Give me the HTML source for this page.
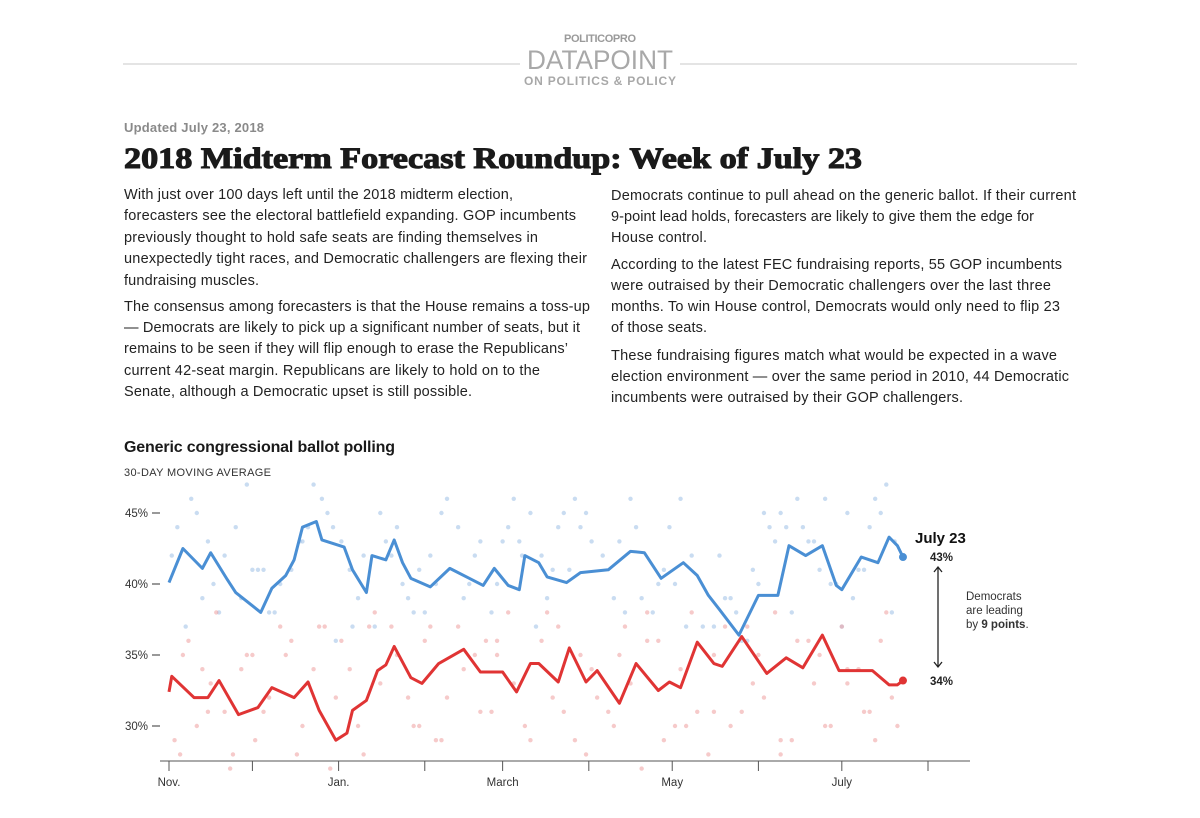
<!DOCTYPE html>
<html><head><meta charset="utf-8"><style>
html,body{margin:0;padding:0;background:#fff;}
svg{display:block;font-family:"Liberation Sans",sans-serif;}
</style></head><body>
<svg id="page" width="1200" height="818" viewBox="0 0 1200 818">
<g>
<line x1="123" y1="64" x2="1077" y2="64" stroke="#c8c8c8" stroke-width="1"/>
<text x="600" y="42" text-anchor="middle" font-size="11" font-weight="bold" fill="#9a9a9a" textLength="72">POLITICOPRO</text>
<rect x="520" y="46" width="160" height="24" fill="#fff"/>
<text x="600" y="69" text-anchor="middle" font-size="27" fill="#a8a8a8" textLength="146" lengthAdjust="spacingAndGlyphs">DATAPOINT</text>
<text x="600" y="85" text-anchor="middle" font-size="12" font-weight="bold" fill="#a8a8a8" textLength="152">ON POLITICS &amp; POLICY</text>
</g>
<text x="124" y="132" font-size="13" font-weight="bold" fill="#8a8a8a" textLength="140">Updated July 23, 2018</text>
<text x="124" y="168" font-family="Liberation Serif,serif" font-size="30" font-weight="bold" fill="#1a1a1a" stroke="#1a1a1a" stroke-width="1.1" textLength="738" lengthAdjust="spacingAndGlyphs">2018 Midterm Forecast Roundup: Week of July 23</text>
<g font-size="14.5" fill="#222">
<text x="124" y="199" textLength="389">With just over 100 days left until the 2018 midterm election,</text>
<text x="124" y="220" textLength="452">forecasters see the electoral battlefield expanding. GOP incumbents</text>
<text x="124" y="242" textLength="414">previously thought to hold safe seats are finding themselves in</text>
<text x="124" y="263" textLength="463">unexpectedly tight races, and Democratic challengers are flexing their</text>
<text x="124" y="285" textLength="135">fundraising muscles.</text>
<text x="124" y="311" textLength="466">The consensus among forecasters is that the House remains a toss-up</text>
<text x="124" y="332" textLength="456">— Democrats are likely to pick up a significant number of seats, but it</text>
<text x="124" y="353" textLength="444">remains to be seen if they will flip enough to erase the Republicans’</text>
<text x="124" y="375" textLength="416">current 42-seat margin. Republicans are likely to hold on to the</text>
<text x="124" y="396" textLength="348">Senate, although a Democratic upset is still possible.</text>
</g>
<g font-size="14.5" fill="#222">
<text x="611" y="200" textLength="465">Democrats continue to pull ahead on the generic ballot. If their current</text>
<text x="611" y="221" textLength="423">9-point lead holds, forecasters are likely to give them the edge for</text>
<text x="611" y="242" textLength="96">House control.</text>
<text x="611" y="269" textLength="451">According to the latest FEC fundraising reports, 55 GOP incumbents</text>
<text x="611" y="290" textLength="440">were outraised by their Democratic challengers over the last three</text>
<text x="611" y="311" textLength="449">months. To win House control, Democrats would only need to flip 23</text>
<text x="611" y="332" textLength="96">of those seats.</text>
<text x="611" y="360" textLength="446">These fundraising figures match what would be expected in a wave</text>
<text x="611" y="381" textLength="458">election environment — over the same period in 2010, 44 Democratic</text>
<text x="611" y="402" textLength="352">incumbents were outraised by their GOP challengers.</text>
</g>
<g id="chart">
<g id="dots"></g>
<g id="axes"></g>
<g id="lines"></g>
</g>
<text x="124" y="452" font-size="16" font-weight="bold" fill="#1a1a1a" textLength="271">Generic congressional ballot polling</text>
<text x="124" y="476" font-size="11" fill="#333" textLength="147">30-DAY MOVING AVERAGE</text>
<g>
<text x="915" y="543" font-size="15" font-weight="bold" fill="#111">July 23</text>
<text x="930" y="561" font-size="11.5" font-weight="bold" fill="#222">43%</text>
<text x="930" y="685" font-size="11.5" font-weight="bold" fill="#222">34%</text>
<g stroke="#222" stroke-width="1.3" fill="none">
<line x1="938" y1="567" x2="938" y2="667"/>
<polyline points="934,572 938,567 942,572"/>
<polyline points="934,662 938,667 942,662"/>
</g>
<g font-size="11.5" fill="#333">
<text x="966" y="600">Democrats</text>
<text x="966" y="614">are leading</text>
<text x="966" y="628">by <tspan font-weight="bold">9 points</tspan>.</text>
</g>
</g>
</svg>
<script>
// days since Nov 1, 2017
const demDays = [0,5,12,15,21,24,33,37,42,45,48,53,55,63,66,71,73,78,81,84,87,94,101,108,113,117,122,126,128,133,136,143,148,158,166,171,177,185,190,194,198,205,212,219,223,229,235,240,242,249,255,259,262,264];
const demValues = [40.1,42.5,41.1,42.2,40.3,39.4,38.0,39.7,40.6,41.7,44.0,44.4,43.1,42.6,41.0,39.4,42.0,41.7,43.1,41.5,40.4,39.8,41.1,40.4,39.9,41.1,39.9,39.6,42.0,41.5,40.5,40.1,40.8,41.0,42.3,42.2,40.4,41.5,40.6,39.2,38.2,36.4,39.2,39.2,42.7,42.0,42.7,39.9,39.6,41.9,41.5,43.3,42.7,41.9];
const repDays = [0,1,9,14,18,25,32,37,45,50,54,60,64,66,71,75,78,81,87,91,97,106,112,120,125,130,133,140,144,150,154,162,168,176,180,184,190,196,199,206,215,222,228,235,241,253,259,262,264];
const repValues = [32.4,33.5,32.0,32.0,33.2,30.8,31.3,32.7,32.0,33.1,31.1,29.0,29.5,31.1,31.8,33.9,34.3,35.6,33.4,33.0,34.4,35.4,33.8,33.8,32.4,34.4,34.4,33.1,35.5,33.1,33.9,31.6,34.4,32.5,33.1,32.7,35.9,34.4,34.2,36.3,33.7,34.8,34.1,36.4,33.9,33.9,32.9,32.9,33.2];
const demPollDays = [3,8,14,20,26,30,36,44,50,52,57,62,70,76,82,90,96,104,110,116,124,130,138,146,152,160,168,174,182,188,196,202,210,216,222,226,232,238,244,250,254,258,261,6,18,40,60,86,100,120,142,164,186,208,230,248,256,28,74,134,
 1,10,16,24,32,38,47,55,59,65,68,78,84,88,94,98,106,112,118,122,127,132,136,140,144,150,156,162,166,170,176,180,184,192,198,204,206,212,214,218,224,228,234,236,240,246,252,260,12,34,48,66,80,92,108,126,148,178,200,220,242];
const demPollValues = [44,46,43,42,39,41,38,41,44,47,45,43,42,45,44,41,40,44,42,38,46,45,41,46,43,39,44,38,40,42,37,39,41,44,44,46,43,40,45,41,46,47,43,37,38,40,36,39,46,43,45,38,37,36,43,41,45,47,37,42,
 42,45,40,44,41,38,43,46,44,41,39,43,40,38,42,45,39,43,40,44,42,37,39,44,41,45,42,43,46,39,40,44,46,37,42,38,36,40,45,43,38,44,41,46,40,39,44,38,39,41,43,37,42,38,40,43,44,41,39,45,37];
const repPollDays = [2,7,12,17,23,28,34,40,46,52,58,62,68,74,80,86,92,98,104,110,116,122,128,134,140,146,152,158,164,170,176,182,188,194,200,206,212,218,224,230,236,242,248,254,258,262,4,22,44,56,90,118,150,172,196,220,244,
 5,10,15,20,26,31,36,42,48,54,60,65,70,76,82,88,94,100,106,112,118,124,130,136,142,148,154,160,166,172,178,184,190,196,202,208,214,220,226,232,238,244,250,256,260,14,30,50,72,96,114,138,162,186,210,234,252];
const repPollValues = [29,36,34,38,28,35,31,37,28,34,27,36,30,38,37,32,36,29,37,35,31,38,30,36,37,29,34,31,37,27,36,30,38,28,37,31,35,38,29,36,30,37,34,29,38,30,28,27,36,37,30,35,28,38,31,29,33,
 35,30,33,31,34,29,32,35,30,37,32,34,28,33,35,30,37,32,34,31,36,33,29,38,31,35,32,30,33,36,29,34,31,35,30,37,32,28,36,33,30,34,31,36,32,31,35,33,37,29,36,32,35,30,33,35,31];
const yTicks = [30,35,40,45];
const yTickLabels = ["30%","35%","40%","45%"];
const xTickDays = [0,30,61,92,120,151,181,212,242,273];
const xLabels = ["Nov.","","Jan.","","March","","May","","July",""];

const NS = "http://www.w3.org/2000/svg";
function xs(d){ return 169 + d * (928 - 169) / 273; }
function ys(v){ return 584 - (v - 40) * 14.2; }
function mk(tag, attrs, parent){ const e = document.createElementNS(NS, tag); for (const k in attrs) e.setAttribute(k, attrs[k]); parent.appendChild(e); return e; }

const dots = document.getElementById('dots');
demPollDays.forEach((d,i)=>{
  const c = mk('circle',{cx:xs(d),cy:ys(demPollValues[i]),r:2.2,fill:'#9dc0e6','fill-opacity':0.55},dots);
  
  
});
repPollDays.forEach((d,i)=>{
  const c = mk('circle',{cx:xs(d),cy:ys(repPollValues[i]),r:2.2,fill:'#ee9f9f','fill-opacity':0.55},dots);
  
  
});

const axes = document.getElementById('axes');
const axisLine = mk('line',{x1:160,y1:761,x2:970,y2:761,stroke:'#555','stroke-width':1},axes);


xTickDays.forEach((d,i)=>{
  const t = mk('line',{x1:xs(d),y1:761,x2:xs(d),y2:771,stroke:'#555','stroke-width':1},axes);
  
  
  if (xLabels[i]) {
    const l = mk('text',{x:xs(d),y:786,'text-anchor':'middle','font-size':11.5,fill:'#333'},axes);
    l.textContent = xLabels[i];
    
    
  }
});
yTicks.forEach((v,i)=>{
  const l = mk('text',{x:148,y:ys(v)+4,'text-anchor':'end','font-size':11.5,fill:'#333'},axes);
  l.textContent = yTickLabels[i];
  
  
  const t = mk('line',{x1:152,y1:ys(v),x2:160,y2:ys(v),stroke:'#333','stroke-width':1},axes);
  
  
});

function linePath(days, vals){
  let p = 'M' + xs(days[0]) + ',' + ys(vals[0]);
  for (let i = 1; i < days.length; i++) {
    p += ' L' + xs(days[i]) + ',' + ys(vals[i]);
  }
  return p;
}
const lines = document.getElementById('lines');
const demLine = mk('path',{d:linePath(demDays,demValues),fill:'none',stroke:'#4a8fd4','stroke-width':3,'stroke-linejoin':'round'},lines);


const repLine = mk('path',{d:linePath(repDays,repValues),fill:'none',stroke:'#e03434','stroke-width':3,'stroke-linejoin':'round'},lines);


const demEnd = mk('circle',{cx:xs(demDays[demDays.length-1]),cy:ys(demValues[demValues.length-1]),r:4,fill:'#4a8fd4'},lines);


const repEnd = mk('circle',{cx:xs(repDays[repDays.length-1]),cy:ys(repValues[repValues.length-1]),r:4,fill:'#e03434'},lines);


</script>
</body></html>
